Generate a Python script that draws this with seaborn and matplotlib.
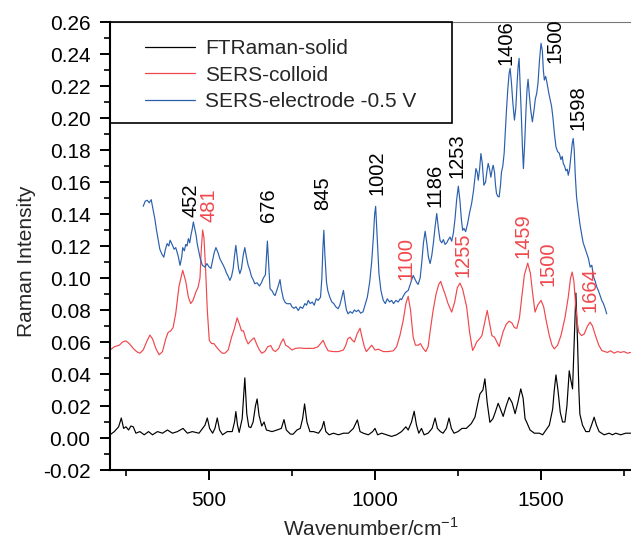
import numpy as np
import pandas as pd
import matplotlib
matplotlib.use("Agg")
import matplotlib.pyplot as plt
from matplotlib.patches import Rectangle
from matplotlib.ticker import FixedLocator
import seaborn as sns

# ---------------- data ----------------
black_wn = [202, 215, 228, 236, 243, 250, 258, 265, 272, 280, 292, 305, 318, 330, 345, 360, 375, 390, 405, 422,
            435, 450, 470, 488, 495, 502, 511, 518, 525, 532, 541, 555, 570, 577, 581, 586, 591, 600, 608, 614,
            620, 626, 633, 640, 645, 651, 659, 666, 673, 690, 705, 718, 726, 733, 745, 753, 765, 775, 782, 788,
            795, 804, 815, 830, 840, 846, 852, 862, 875, 890, 905, 920, 935, 947, 955, 965, 980, 993, 1000, 1008,
            1020, 1035, 1050, 1065, 1080, 1093, 1100, 1110, 1118, 1125, 1132, 1140, 1148, 1160, 1172, 1181, 1188,
            1197, 1205, 1215, 1223, 1230, 1238, 1250, 1262, 1275, 1290, 1301, 1310, 1316, 1325, 1331, 1338, 1346,
            1355, 1362, 1371, 1378, 1386, 1395, 1404, 1413, 1422, 1430, 1439, 1446, 1452, 1457, 1467, 1480, 1495,
            1505, 1515, 1525, 1535, 1540, 1545, 1551, 1558, 1565, 1572, 1578, 1585, 1590, 1595, 1600, 1605, 1610,
            1614, 1617, 1625, 1635, 1645, 1652, 1660, 1667, 1675, 1690, 1705, 1715, 1725, 1740, 1755, 1770]
black_int = [0.002, 0.004, 0.007, 0.0125, 0.006, 0.007, 0.005, 0.0075, 0.007, 0.003, 0.004, 0.002, 0.004, 0.002,
             0.004, 0.003, 0.005, 0.003, 0.004, 0.006, 0.003, 0.004, 0.003, 0.008, 0.0125, 0.006, 0.003, 0.006,
             0.0125, 0.005, 0.002, 0.004, 0.004, 0.010, 0.0165, 0.008, 0.0035, 0.012, 0.0376, 0.015, 0.007, 0.0065,
             0.010, 0.020, 0.0244, 0.014, 0.0075, 0.010, 0.005, 0.004, 0.005, 0.006, 0.0115, 0.005, 0.0025, 0.0023,
             0.005, 0.006, 0.012, 0.0213, 0.010, 0.004, 0.004, 0.003, 0.006, 0.0104, 0.004, 0.002, 0.003, 0.002,
             0.003, 0.003, 0.006, 0.0113, 0.004, 0.003, 0.002, 0.004, 0.006, 0.002, 0.003, 0.002, 0.001, 0.002,
             0.004, 0.007, 0.005, 0.010, 0.0167, 0.008, 0.003, 0.006, 0.002, 0.003, 0.006, 0.0125, 0.006, 0.004,
             0.003, 0.006, 0.0125, 0.006, 0.003, 0.004, 0.006, 0.006, 0.009, 0.013, 0.022, 0.0275, 0.030, 0.037,
             0.022, 0.0098, 0.012, 0.016, 0.0217, 0.018, 0.0135, 0.020, 0.0254, 0.022, 0.0152, 0.022, 0.0307, 0.025,
             0.012, 0.0098, 0.005, 0.003, 0.003, 0.002, 0.005, 0.008, 0.018, 0.030, 0.0394, 0.030, 0.016, 0.010,
             0.010, 0.020, 0.042, 0.036, 0.0307, 0.060, 0.0906, 0.060, 0.030, 0.015, 0.008, 0.004, 0.004, 0.008,
             0.013, 0.008, 0.004, 0.002, 0.003, 0.002, 0.003, 0.002, 0.003, 0.003]

red_wn = [202, 215, 230, 240, 250, 260, 272, 282, 292, 302, 312, 322, 330, 340, 350, 360, 370, 377, 385, 392, 400,
          410, 421, 430, 438, 445, 452, 460, 467, 473, 477, 481, 485, 490, 495, 501, 508, 515, 522, 530, 540, 548,
          558, 568, 576, 585, 592, 598, 604, 611, 618, 627, 636, 645, 652, 659, 668, 677, 686, 693, 700, 710, 718,
          724, 731, 739, 750, 760, 774, 785, 800, 815, 828, 836, 844, 852, 859, 875, 890, 905, 912, 918, 925, 932,
          938, 946, 955, 962, 968, 974, 982, 990, 1000, 1010, 1025, 1040, 1055, 1065, 1075, 1085, 1093, 1100, 1107,
          1115, 1122, 1130, 1137, 1145, 1153, 1160, 1167, 1175, 1184, 1192, 1198, 1204, 1211, 1220, 1231, 1240,
          1248, 1256, 1264, 1276, 1285, 1294, 1300, 1306, 1315, 1322, 1330, 1338, 1345, 1352, 1360, 1367, 1374,
          1380, 1386, 1395, 1404, 1412, 1420, 1427, 1435, 1442, 1450, 1460, 1468, 1475, 1482, 1490, 1500, 1508,
          1515, 1525, 1533, 1540, 1550, 1560, 1572, 1582, 1589, 1594, 1599, 1604, 1610, 1614, 1622, 1630, 1640,
          1648, 1655, 1664, 1674, 1683, 1692, 1700, 1710, 1720, 1730, 1740, 1750, 1760, 1770]
red_int = [0.055, 0.057, 0.058, 0.060, 0.0607, 0.059, 0.056, 0.054, 0.053, 0.055, 0.060, 0.0643, 0.062, 0.056,
           0.052, 0.054, 0.062, 0.066, 0.067, 0.069, 0.078, 0.095, 0.1048, 0.098, 0.088, 0.084, 0.086, 0.091, 0.094,
           0.100, 0.118, 0.130, 0.125, 0.105, 0.080, 0.061, 0.059, 0.059, 0.057, 0.055, 0.053, 0.053, 0.055, 0.063,
           0.068, 0.0751, 0.071, 0.067, 0.067, 0.062, 0.0588, 0.061, 0.0626, 0.058, 0.055, 0.053, 0.054, 0.057,
           0.0578, 0.055, 0.054, 0.056, 0.060, 0.062, 0.058, 0.057, 0.055, 0.056, 0.0563, 0.056, 0.056, 0.056,
           0.057, 0.059, 0.061, 0.057, 0.0545, 0.054, 0.054, 0.055, 0.058, 0.062, 0.063, 0.061, 0.060, 0.065,
           0.0686, 0.062, 0.057, 0.054, 0.056, 0.058, 0.055, 0.0555, 0.054, 0.054, 0.0545, 0.057, 0.064, 0.0734,
           0.084, 0.0885, 0.080, 0.063, 0.058, 0.058, 0.059, 0.056, 0.054, 0.057, 0.068, 0.0797, 0.090, 0.096,
           0.0979, 0.094, 0.090, 0.084, 0.0787, 0.085, 0.094, 0.0968, 0.093, 0.082, 0.066, 0.0547, 0.057, 0.060,
           0.062, 0.064, 0.072, 0.0797, 0.072, 0.064, 0.063, 0.060, 0.0572, 0.062, 0.0665, 0.071, 0.073, 0.072,
           0.069, 0.0685, 0.075, 0.088, 0.102, 0.1093, 0.103, 0.090, 0.0787, 0.083, 0.086, 0.082, 0.074, 0.064,
           0.058, 0.0557, 0.058, 0.064, 0.075, 0.088, 0.100, 0.1037, 0.098, 0.084, 0.071, 0.066, 0.064, 0.065,
           0.070, 0.0724, 0.070, 0.064, 0.058, 0.0547, 0.054, 0.0535, 0.0545, 0.053, 0.054, 0.0535, 0.054, 0.053,
           0.0535]

blue_wn = [302, 308, 314, 320, 326, 332, 337, 342, 347, 352, 358, 364, 369, 374, 379, 383, 389, 395, 400, 407, 413,
           418, 421, 426, 430, 434, 438, 442, 446, 450, 453, 457, 461, 465, 468, 474, 480, 488, 494, 500, 506, 512,
           516, 521, 527, 533, 538, 543, 548, 553, 558, 563, 568, 573, 577, 581, 585, 589, 593, 598, 603, 608, 613,
           618, 623, 628, 633, 638, 645, 652, 658, 664, 670, 673, 676, 680, 684, 690, 695, 699, 704, 710, 714, 718,
           724, 729, 734, 739, 745, 750, 756, 762, 769, 775, 782, 789, 794, 799, 805, 811, 817, 823, 829, 836, 840,
           843, 846, 849, 854, 858, 864, 870, 876, 882, 889, 894, 899, 905, 910, 914, 919, 925, 932, 938, 944, 950,
           957, 964, 970, 977, 984, 990, 995, 999, 1002, 1006, 1012, 1018, 1025, 1031, 1037, 1044, 1050, 1056,
           1063, 1070, 1076, 1080, 1086, 1092, 1100, 1106, 1111, 1115, 1121, 1126, 1130, 1136, 1141, 1146, 1151,
           1156, 1161, 1166, 1171, 1176, 1181, 1186, 1191, 1196, 1201, 1206, 1211, 1216, 1221, 1226, 1231, 1236,
           1241, 1246, 1251, 1256, 1260, 1264, 1268, 1273, 1279, 1285, 1291, 1297, 1304, 1308, 1311, 1315, 1319,
           1323, 1328, 1333, 1338, 1341, 1345, 1349, 1353, 1356, 1360, 1363, 1366, 1370, 1374, 1378, 1381, 1385,
           1389, 1392, 1396, 1400, 1404, 1407, 1411, 1415, 1420, 1424, 1428, 1431, 1434, 1437, 1441, 1444, 1447,
           1451, 1455, 1458, 1461, 1465, 1469, 1474, 1479, 1483, 1487, 1491, 1495, 1500, 1504, 1507, 1510, 1514,
           1518, 1523, 1528, 1532, 1536, 1540, 1545, 1550, 1555, 1560, 1564, 1567, 1571, 1575, 1579, 1582, 1586,
           1590, 1594, 1597, 1600, 1603, 1607, 1612, 1617, 1622, 1627, 1632, 1638, 1643, 1648, 1653, 1658, 1663,
           1668, 1673, 1678, 1683, 1688, 1693, 1698]
blue_int = [0.1448, 0.148, 0.1486, 0.147, 0.149, 0.1423, 0.137, 0.130, 0.124, 0.118, 0.115, 0.113, 0.118, 0.1215,
            0.120, 0.1236, 0.121, 0.118, 0.119, 0.114, 0.1079, 0.113, 0.119, 0.117, 0.121, 0.120, 0.1246, 0.122,
            0.127, 0.131, 0.135, 0.131, 0.127, 0.121, 0.118, 0.112, 0.108, 0.1068, 0.109, 0.107, 0.106, 0.112,
            0.116, 0.119, 0.116, 0.112, 0.110, 0.108, 0.1058, 0.103, 0.101, 0.0985, 0.101, 0.106, 0.114, 0.1204,
            0.113, 0.106, 0.1027, 0.106, 0.114, 0.119, 0.113, 0.108, 0.105, 0.101, 0.099, 0.0964, 0.097, 0.095,
            0.097, 0.100, 0.102, 0.112, 0.1231, 0.108, 0.0933, 0.092, 0.090, 0.089, 0.092, 0.096, 0.099, 0.093,
            0.087, 0.0849, 0.084, 0.0839, 0.084, 0.082, 0.081, 0.082, 0.0797, 0.082, 0.081, 0.084, 0.083, 0.086,
            0.084, 0.085, 0.083, 0.087, 0.086, 0.088, 0.100, 0.118, 0.1298, 0.115, 0.0974, 0.092, 0.088, 0.085,
            0.084, 0.082, 0.0808, 0.083, 0.087, 0.0922, 0.085, 0.080, 0.0776, 0.079, 0.078, 0.080, 0.079, 0.080,
            0.078, 0.0789, 0.083, 0.088, 0.0974, 0.110, 0.125, 0.140, 0.1448, 0.128, 0.1027, 0.092, 0.086, 0.084,
            0.087, 0.085, 0.086, 0.084, 0.086, 0.085, 0.087, 0.0865, 0.089, 0.091, 0.0922, 0.096, 0.099, 0.1016,
            0.099, 0.097, 0.096, 0.100, 0.110, 0.122, 0.1292, 0.122, 0.113, 0.109, 0.114, 0.122, 0.132, 0.1403,
            0.131, 0.1235, 0.122, 0.124, 0.121, 0.122, 0.124, 0.1256, 0.123, 0.128, 0.137, 0.149, 0.1574, 0.148,
            0.137, 0.1298, 0.131, 0.129, 0.134, 0.141, 0.1465, 0.155, 0.1684, 0.166, 0.1611, 0.168, 0.1778, 0.172,
            0.158, 0.160, 0.168, 0.1716, 0.168, 0.163, 0.168, 0.1705, 0.166, 0.158, 0.1528, 0.151, 0.1507, 0.158,
            0.1663, 0.170, 0.178, 0.190, 0.205, 0.218, 0.228, 0.231, 0.222, 0.210, 0.1987, 0.206, 0.222, 0.232,
            0.2373, 0.222, 0.200, 0.182, 0.1684, 0.185, 0.206, 0.218, 0.2242, 0.214, 0.205, 0.1976, 0.205, 0.212,
            0.2154, 0.222, 0.235, 0.2467, 0.242, 0.230, 0.2237, 0.226, 0.222, 0.216, 0.211, 0.207, 0.200, 0.191,
            0.182, 0.179, 0.178, 0.174, 0.176, 0.1716, 0.170, 0.167, 0.168, 0.1642, 0.168, 0.176, 0.184, 0.1872,
            0.180, 0.165, 0.1507, 0.142, 0.134, 0.1277, 0.122, 0.119, 0.1152, 0.112, 0.1068, 0.108, 0.101, 0.098,
            0.0943, 0.092, 0.089, 0.086, 0.084, 0.081, 0.0776]

series_names = ["FTRaman-solid", "SERS-colloid", "SERS-electrode -0.5 V"]

black_labels = ["452", "676", "845", "1002", "1186", "1253", "1406", "1500", "1598"]
black_label_x = [446, 679, 842, 1007, 1182, 1248, 1394, 1541, 1610]
black_label_y = [0.1379, 0.1348, 0.1423, 0.1517, 0.1442, 0.1624, 0.2331, 0.2344, 0.1924]
red_labels = ["481", "1100", "1255", "1459", "1500", "1664"]
red_label_x = [500, 1092, 1264, 1447, 1520, 1649]
red_label_y = [0.1348, 0.0985, 0.1004, 0.1123, 0.0951, 0.0785]

x_major = [500, 1000, 1500]
x_minor = [250, 750, 1250, 1750]

# ---------------- style ----------------
sns.set_style("ticks")
plt.rcParams["font.family"] = ["Liberation Sans", "DejaVu Sans"]
plt.rcParams["axes.unicode_minus"] = False
plt.rcParams["mathtext.fontset"] = "custom"
plt.rcParams["mathtext.rm"] = "Liberation Sans"

BLACK = "#000000"
RED = "#f0474c"
BLUE = "#2a5fae"
colors = [BLACK, RED, BLUE]

df = pd.concat([
    pd.DataFrame({"wn": black_wn, "I": black_int, "s": series_names[0]}),
    pd.DataFrame({"wn": red_wn, "I": red_int, "s": series_names[1]}),
    pd.DataFrame({"wn": blue_wn, "I": blue_int, "s": series_names[2]}),
], ignore_index=True)

fig = plt.figure(figsize=(6.31, 5.38), dpi=100)
ax = fig.add_axes([110 / 631, 68 / 538, 1 - 110 / 631, (470 - 22) / 538])

sns.lineplot(data=df, x="wn", y="I", hue="s", palette=colors, hue_order=series_names,
             sort=False, estimator=None, linewidth=0.85, ax=ax, legend=False)

ax.set_xlim(202, 1771)
ax.set_ylim(-0.02, 0.26)

ax.xaxis.set_major_locator(FixedLocator(x_major))
ax.xaxis.set_minor_locator(FixedLocator(x_minor))
ax.yaxis.set_major_locator(FixedLocator(np.round(np.arange(-0.02, 0.2601, 0.02), 2)))
ax.yaxis.set_minor_locator(FixedLocator(np.round(np.arange(-0.01, 0.26, 0.02), 2)))
ax.yaxis.set_major_formatter(matplotlib.ticker.FormatStrFormatter("%.2f"))

ax.tick_params(axis="both", which="major", direction="out", length=7, width=1.4,
               labelsize=15, color="black", labelcolor="black")
ax.tick_params(axis="both", which="minor", direction="out", length=4, width=1.2, color="black")
ax.tick_params(axis="y", which="major", pad=7)
ax.tick_params(axis="x", which="major", pad=8)

for side in ["left", "bottom"]:
    ax.spines[side].set_linewidth(1.5)
    ax.spines[side].set_color("black")
ax.spines["right"].set_visible(False)
ax.spines["top"].set_visible(True)
ax.spines["top"].set_linewidth(0.8)
ax.spines["top"].set_color("#777777")

ax.set_xlabel("Wavenumber/cm$^{\\mathregular{-1}}$", fontsize=15, labelpad=5)
ax.set_ylabel("Raman Intensity", fontsize=15)
ax.yaxis.set_label_coords(-0.142, 0.466)

for t, x, y in zip(black_labels, black_label_x, black_label_y):
    ax.text(x, y, t, rotation=90, ha="center", va="bottom", fontsize=14.5, color=BLACK)
for t, x, y in zip(red_labels, red_label_x, red_label_y):
    ax.text(x, y, t, rotation=90, ha="center", va="bottom", fontsize=14.5, color=RED)

# legend
handles = [plt.Line2D([], [], color=c, linewidth=0.9) for c in colors]
leg = ax.legend(handles, series_names, loc="upper left", bbox_to_anchor=(0.068, 0.962),
                frameon=False, fontsize=15, handlelength=2.4, handletextpad=0.45,
                labelspacing=0.37, borderaxespad=0, borderpad=0)
ax.add_patch(Rectangle((0, 1 - 101 / 448), 342 / 521, 101 / 448, transform=ax.transAxes,
                       fill=False, edgecolor="black", linewidth=1.2, zorder=5, clip_on=False))

fig.savefig("out.png", dpi=100)
